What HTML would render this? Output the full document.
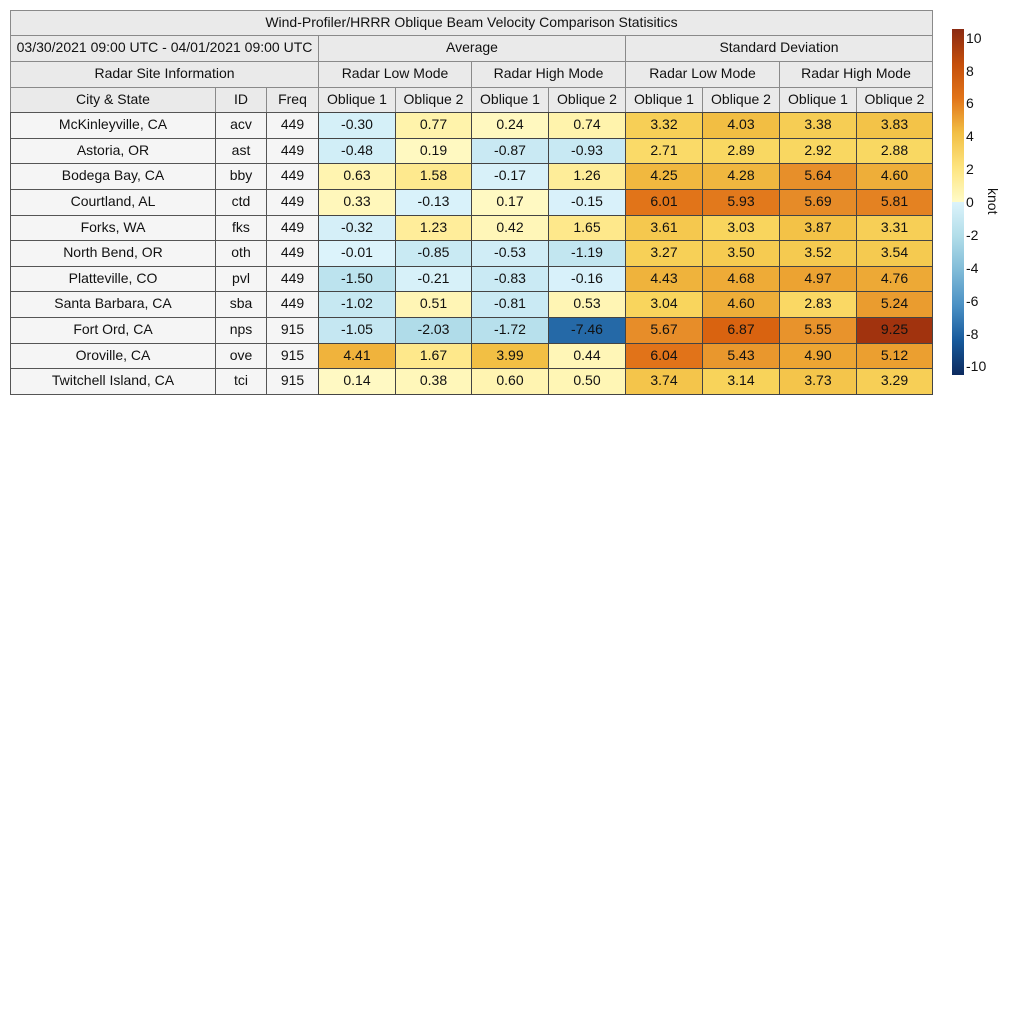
<!DOCTYPE html><html><head><style>
body{margin:0;width:1024px;height:1024px;background:#fff;position:relative;font-family:"Liberation Sans",sans-serif;}
.c{position:absolute;box-sizing:border-box;display:flex;align-items:center;justify-content:center;font-size:14px;color:#111;padding-bottom:3px;}
</style></head><body>
<div id="t"></div>
<svg style="position:absolute;left:0;top:0" width="1024" height="1024">
<defs><linearGradient id="g" x1="0" y1="1" x2="0" y2="0">
<stop offset="0" stop-color="#0c2a5e"/><stop offset="0.1" stop-color="#175a9c"/><stop offset="0.2" stop-color="#4a90c4"/><stop offset="0.3" stop-color="#7fbad7"/><stop offset="0.4" stop-color="#b1dde9"/><stop offset="0.5" stop-color="#dcf3fb"/><stop offset="0.5" stop-color="#fffbc8"/><stop offset="0.6" stop-color="#fde47f"/><stop offset="0.7" stop-color="#f2bf44"/><stop offset="0.8" stop-color="#e17419"/><stop offset="0.9" stop-color="#c44e0b"/><stop offset="1" stop-color="#8a2a12"/></linearGradient></defs>
<rect x="952" y="29" width="12" height="346" fill="url(#g)"/>
<g font-family="Liberation Sans" font-size="14" fill="#111">
<text x="966" y="43">10</text><text x="966" y="76">8</text><text x="966" y="108">6</text><text x="966" y="141">4</text><text x="966" y="174">2</text><text x="966" y="207">0</text><text x="966" y="240">-2</text><text x="966" y="273">-4</text><text x="966" y="306">-6</text><text x="966" y="339">-8</text><text x="966" y="371">-10</text>
<text transform="translate(988,188) rotate(90)" font-size="14">knot</text></g>
</svg>
<script>
const st=[[-10,"0c2a5e"],[-8,"175a9c"],[-6,"4a90c4"],[-4,"7fbad7"],[-2,"b1dde9"],[-1,"c6e8f2"],[0,"dcf3fb"]],
sp=[[0,"fffbc8"],[1,"fff0a2"],[2,"fde47f"],[3,"f9d65e"],[4,"f2bf44"],[5,"eca231"],[5.6,"e8922c"],[6,"e17419"],[7,"d8600f"],[8,"c44e0b"],[9,"a8360c"],[10,"8a2a12"]];
function col(v){const s=v<0?st:sp;for(let i=0;i<s.length-1;i++){if(v>=s[i][0]&&v<=s[i+1][0]){const f=(v-s[i][0])/(s[i+1][0]-s[i][0]);const a=s[i][1],b=s[i+1][1];let r=[];for(let k=0;k<3;k++){const x=parseInt(a.substr(k*2,2),16),y=parseInt(b.substr(k*2,2),16);r.push(Math.round(x+(y-x)*f));}return "rgb("+r.join(",")+")";}}return "#"+s[s.length-1][1];}
let h="";
function cell(x1,y1,x2,y2,txt,bg,bc){h+=`<div class="c" style="left:${x1}px;top:${y1}px;width:${x2-x1+1}px;height:${y2-y1+1}px;background:${bg};border:1px solid ${bc}">${txt}</div>`;}
const X=[10,215,266,318,395,471,548,625,702,779,856,932];
const HB="#eaeaea",HC="#8a8a8a";
cell(10,10,932,35,"Wind-Profiler/HRRR Oblique Beam Velocity Comparison Statisitics",HB,HC);
cell(10,35,318,61,"03/30/2021 09:00 UTC - 04/01/2021 09:00 UTC",HB,HC);
cell(318,35,625,61,"Average",HB,HC);cell(625,35,932,61,"Standard Deviation",HB,HC);
cell(10,61,318,87,"Radar Site Information",HB,HC);
["Radar Low Mode","Radar High Mode","Radar Low Mode","Radar High Mode"].forEach((t,i)=>cell(X[3+2*i],61,X[5+2*i],87,t,HB,HC));
["City &amp; State","ID","Freq","Oblique 1","Oblique 2","Oblique 1","Oblique 2","Oblique 1","Oblique 2","Oblique 1","Oblique 2"].forEach((t,i)=>cell(X[i],87,X[i+1],112,t,HB,HC));
const D=[["McKinleyville, CA","acv",449,-0.30,0.77,0.24,0.74,3.32,4.03,3.38,3.83],["Astoria, OR","ast",449,-0.48,0.19,-0.87,-0.93,2.71,2.89,2.92,2.88],["Bodega Bay, CA","bby",449,0.63,1.58,-0.17,1.26,4.25,4.28,5.64,4.60],["Courtland, AL","ctd",449,0.33,-0.13,0.17,-0.15,6.01,5.93,5.69,5.81],["Forks, WA","fks",449,-0.32,1.23,0.42,1.65,3.61,3.03,3.87,3.31],["North Bend, OR","oth",449,-0.01,-0.85,-0.53,-1.19,3.27,3.50,3.52,3.54],["Platteville, CO","pvl",449,-1.50,-0.21,-0.83,-0.16,4.43,4.68,4.97,4.76],["Santa Barbara, CA","sba",449,-1.02,0.51,-0.81,0.53,3.04,4.60,2.83,5.24],["Fort Ord, CA","nps",915,-1.05,-2.03,-1.72,-7.46,5.67,6.87,5.55,9.25],["Oroville, CA","ove",915,4.41,1.67,3.99,0.44,6.04,5.43,4.90,5.12],["Twitchell Island, CA","tci",915,0.14,0.38,0.60,0.50,3.74,3.14,3.73,3.29]];
D.forEach((r,j)=>{const y1=Math.round(112+j*25.64),y2=Math.round(112+(j+1)*25.64);
for(let i=0;i<11;i++){if(i<3)cell(X[i],y1,X[i+1],y2,r[i],"#f5f5f5","#555");else cell(X[i],y1,X[i+1],y2,r[i].toFixed(2),col(r[i]),"#444");}});
document.getElementById("t").innerHTML=h;
</script>
</body></html>
